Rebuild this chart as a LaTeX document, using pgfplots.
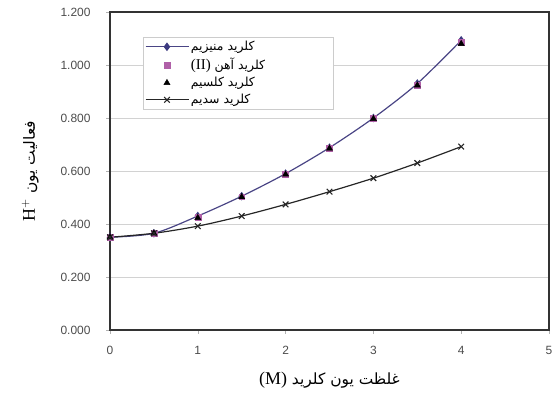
\documentclass[border=0pt]{standalone}
\usepackage{fontspec}
\setmainfont{Liberation Serif}
\newfontfamily\ticksfont{Liberation Sans}
\newfontfamily\arabicfont[Script=Arabic]{DejaVu Sans}
\TeXXeTstate=1
\usepackage{pgfplots}
\pgfplotsset{compat=1.18}
\definecolor{mgline}{HTML}{4A4585}
\definecolor{mgmark}{HTML}{3C3A80}
\definecolor{femark}{HTML}{B060A8}
\newcommand{\lent}[1]{\makebox[138bp][l]{#1}}
\begin{document}
\begin{tikzpicture}
\path[use as bounding box] (-110bp,-64bp) rectangle (448bp,330bp);
\begin{axis}[
  scale only axis,
  width=439bp, height=318bp,
  xmin=0, xmax=5, ymin=0, ymax=1.2,
  xtick={0,1,2,3,4,5},
  ytick={0,0.2,0.4,0.6,0.8,1.0,1.2},
  ymajorgrids,
  grid style={gray!35, line width=0.6pt},
  axis line style={black!80, line width=1.1pt},
  tick align=outside,
  tick pos=left,
  major tick length=4pt,
  tick style={gray!60, line width=0.5pt},
  /pgf/number format/assume math mode=true,
  yticklabel style={/pgf/number format/fixed, /pgf/number format/fixed zerofill, /pgf/number format/precision=3, xshift=-12bp},
  ticklabel style={font=\ticksfont\fontsize{12}{14}\selectfont, text=black!70},
  xticklabel style={yshift=-9bp},
  xlabel={\arabicfont\fontsize{15.5}{18}\selectfont\beginR غلظت یون کلرید \beginL{\rmfamily\fontsize{18}{20}\selectfont (M)}\endL\endR},
  ylabel={\arabicfont\fontsize{15.5}{18}\selectfont\beginR فعالیت یون \beginL{\rmfamily\fontsize{18}{20}\selectfont H$^{+}$}\endL\endR},
  xlabel style={at={(axis description cs:0.5,-0.157)}, anchor=center},
  ylabel style={at={(axis description cs:-0.182,0.5)}, anchor=center},
  legend style={at={(0.075,0.921)}, anchor=north west, draw=gray!40, fill=white,
    font=\arabicfont\fontsize{12.5}{15}\selectfont, row sep=2pt, inner sep=2pt},
  legend cell align=left,
  legend image code/.code={\draw[mark repeat=2,mark phase=2,#1] plot coordinates {(0cm,0cm) (0.75cm,0cm) (1.5cm,0cm)};},
  clip=false,
]
\addplot[color=mgline, line width=1.2pt, smooth, mark=diamond*, mark size=3.4pt, mark options={fill=mgmark, draw=mgmark}]
 coordinates {(0,0.350) (0.5,0.365) (1,0.430) (1.5,0.505) (2,0.590) (2.5,0.688) (3,0.800) (3.5,0.930) (4,1.093)};
\addlegendentry{\lent{\beginR کلرید منیزیم\endR}}
\addplot[only marks, mark=square*, mark size=3pt, color=femark]
 coordinates {(0,0.350) (0.5,0.365) (1,0.425) (1.5,0.503) (2,0.588) (2.5,0.686) (3,0.798) (3.5,0.925) (4,1.085)};
\addlegendentry{\lent{\beginR کلرید آهن \beginL{\rmfamily\fontsize{15}{17}\selectfont (II)}\endL\endR}}
\addplot[only marks, mark=triangle*, mark size=3.6pt, color=black]
 coordinates {(0,0.350) (0.5,0.365) (1,0.423) (1.5,0.502) (2,0.587) (2.5,0.685) (3,0.797) (3.5,0.923) (4,1.080)};
\addlegendentry{\lent{\beginR کلرید کلسیم\endR}}
\addplot[color=black!85, line width=1.2pt, smooth, mark=x, mark size=4pt, mark options={line width=1.1pt}]
 coordinates {(0,0.350) (0.5,0.365) (1,0.392) (1.5,0.430) (2,0.474) (2.5,0.522) (3,0.573) (3.5,0.630) (4,0.692)};
\addlegendentry{\lent{\beginR کلرید سدیم\endR}}
\end{axis}
\end{tikzpicture}
\end{document}
